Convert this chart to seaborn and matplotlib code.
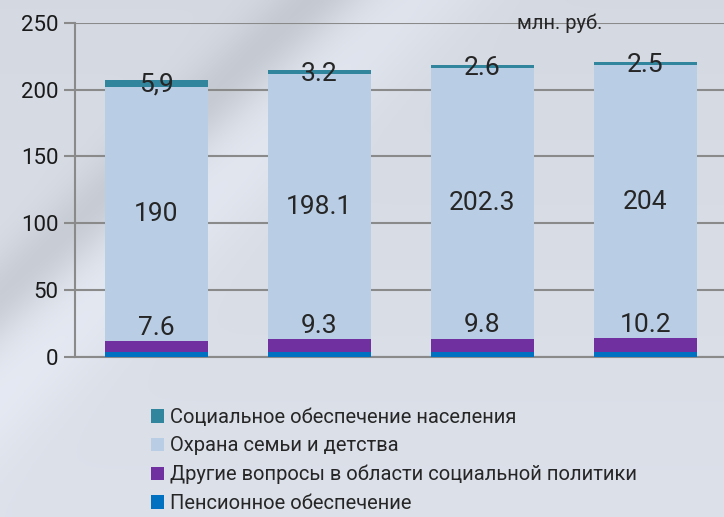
import numpy as np
import pandas as pd
import matplotlib
matplotlib.use("Agg")
import matplotlib.pyplot as plt
from matplotlib.patches import Patch
import seaborn as sns

categories = ["Период 1", "Период 2", "Период 3", "Период 4"]
pension = [4.0, 4.0, 4.0, 4.0]
other_social = [7.6, 9.3, 9.8, 10.2]
family = [190, 198.1, 202.3, 204]
social_security = [5.9, 3.2, 2.6, 2.5]
other_labels = ["7.6", "9.3", "9.8", "10.2"]
family_labels = ["190", "198.1", "202.3", "204"]
social_labels = ["5,9", "3.2", "2.6", "2.5"]
series_names = ["Социальное обеспечение населения", "Охрана семьи и детства",
                "Другие вопросы в области социальной политики", "Пенсионное обеспечение"]
colors = ["#31859C", "#B9CDE5", "#7030A0", "#0070C0"]
yticks = [0, 50, 100, 150, 200, 250]
unit = "млн. руб."

sns.set_style("white")
plt.rcParams["font.family"] = ["Roboto", "DejaVu Sans"]

df = pd.DataFrame({"cat": categories, "p": pension, "o": other_social,
                   "f": family, "s": social_security})
df["c1"] = df["p"]
df["c2"] = df["c1"] + df["o"]
df["c3"] = df["c2"] + df["f"]
df["c4"] = df["c3"] + df["s"]

fig = plt.figure(figsize=(7.24, 5.17), dpi=100)
# soft background resembling the photo backdrop
bg = fig.add_axes([0, 0, 1, 1], zorder=-10)
yy, xx = np.mgrid[0:1:260j, 0:1:360j]   # yy: 0 at top
d = xx + 0.75 * yy - 0.55
band_dark = np.exp(-((d + 0.12) ** 2) / 0.004)
band_light = np.exp(-((d - 0.02) ** 2) / 0.01)
img = 0.89 - 0.07 * band_dark + 0.04 * band_light - 0.03 * (1 - yy)
rgb = np.dstack([img * 0.97, img * 0.99, img * 1.03]).clip(0, 1)
bg.imshow(rgb, aspect="auto", extent=[0, 1, 0, 1], interpolation="bilinear")
bg.axis("off")

ax = fig.add_axes([75 / 724, 0.3095, 652 / 724, 0.6465])
ax.patch.set_alpha(0)
w = 0.63
for col, c in zip(["c4", "c3", "c2", "c1"], colors):
    sns.barplot(data=df, x="cat", y=col, color=c, width=w, ax=ax, saturation=1, zorder=3, linewidth=0)

ax.set_ylim(0, 250)
ax.set_xlim(-0.5, 3.5)
ax.set_yticks(yticks)
ax.set_yticklabels([str(t) for t in yticks], fontsize=16, color="#1a1a1a")
ax.yaxis.grid(True, color="#8a8a8a", linewidth=1.5, zorder=0)
ax.set_axisbelow(True)
ax.tick_params(axis="y", length=8, width=1.5, color="#8a8a8a", pad=4, left=True)
ax.tick_params(axis="x", length=0, labelbottom=False)
ax.set_xlabel("")
ax.set_ylabel("")
for s in ["top", "right"]:
    ax.spines[s].set_visible(False)
ax.spines["left"].set_color("#8a8a8a")
ax.spines["left"].set_linewidth(1.5)
ax.spines["bottom"].set_color("#8a8a8a")
ax.spines["bottom"].set_linewidth(1.5)

for i in range(len(categories)):
    ax.annotate(other_labels[i], (i, df["c2"][i]), xytext=(0, 1), textcoords="offset points",
                ha="center", va="bottom", fontsize=19, zorder=5)
    ax.text(i, (df["c2"][i] + df["c3"][i]) / 2, family_labels[i], ha="center", va="center",
            fontsize=19, zorder=5)
    ax.text(i, (df["c3"][i] + df["c4"][i]) / 2 - 1, social_labels[i], ha="center", va="center",
            fontsize=19, zorder=5)

fig.text(560 / 724, 1 - 23 / 517, unit, ha="center", va="center", fontsize=14.5)

handles = [Patch(facecolor=c, edgecolor="none") for c in colors]
fig.legend(handles, series_names, loc="upper left", bbox_to_anchor=(151 / 724, 1 - 408 / 517),
           frameon=False, fontsize=14.5, handlelength=0.65, handleheight=0.65, handletextpad=0.3,
           labelspacing=0.47, borderaxespad=0, borderpad=0)

fig.savefig("out.png", dpi=100)
